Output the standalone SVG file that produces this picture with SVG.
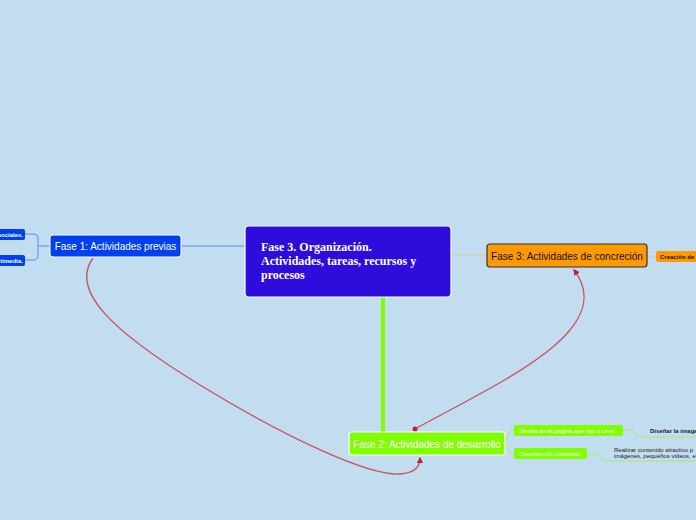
<svg xmlns="http://www.w3.org/2000/svg" width="696" height="520" viewBox="0 0 696 520">
<defs>
<style>
.sans{font-family:"Liberation Sans","DejaVu Sans",sans-serif}
.small{font-size:6px;font-weight:bold}
.red{fill:none;stroke:#c9505e;stroke-width:1.3}
</style>
<marker id="arr" viewBox="0 0 10 10" refX="8" refY="5" markerWidth="5" markerHeight="5" orient="auto-start-reverse">
<path d="M0 0 L10 5 L0 10 z" fill="#c21f36"/>
</marker>
</defs>
<rect width="696" height="520" fill="#c2ddef"/>
<g id="connectors">
<path d="M181 246 H245" stroke="#5b8ef0" stroke-width="1" fill="none"/>
<path d="M25 234 H34 Q38 234 38 238 V254 Q38 260 34 260 H25 M38 246 H50" stroke="#5b8ef0" stroke-width="1" fill="none"/>
<path d="M451 255 H487 M647 256 H656" stroke="#e0c8a0" stroke-width="1" fill="none"/>
<path d="M383 297 V432" stroke="#80ff00" stroke-width="4" fill="none"/>
<path d="M505 443 Q509 430 514 430 M505 443 Q509 454 514 454" stroke="#a8e878" stroke-width="1" fill="none"/>
<path d="M623 430 H630 Q634 430 636 434 Q638 437 642 437 H696" stroke="#a8e878" stroke-width="1" fill="none"/>
<path d="M587 454 H596 Q600 454 601 458 Q602 461 606 461 H696" stroke="#a8e878" stroke-width="1" fill="none"/>
<path class="red" d="M93 258 C70 290 110 330 200 385 C290 440 370 476 400 474 C416 473 420 466 420 458" marker-end="url(#arr)"/>
<path class="red" d="M415 429 C500 382 620 330 574 270" marker-end="url(#arr)"/>
<circle cx="415" cy="429" r="2.5" fill="#c21f36"/>
</g>
<g id="central">
<rect x="245" y="226" width="206" height="71" rx="4" fill="#2e0ddc" stroke="#ffffff" stroke-width="1.2"/>
<text font-family="Liberation Serif,serif" font-weight="bold" font-size="12" fill="#ffffff">
<tspan x="261" y="251">Fase 3. Organización.</tspan>
<tspan x="261" y="265">Actividades, tareas, recursos y</tspan>
<tspan x="261" y="279">procesos</tspan>
</text>
</g>
<g id="fase1">
<rect x="50" y="235" width="131" height="22" rx="3" fill="#0040f0" stroke="#ffffff" stroke-width="1"/>
<text class="sans" x="115.5" y="250" font-size="10" fill="#ffffff" text-anchor="middle">Fase 1: Actividades previas</text>
</g>
<g id="fase1-a">
<rect x="-5" y="229" width="30" height="11" rx="2" fill="#0040f0"/>
<text class="sans small" x="23" y="236.5" fill="#ffffff" text-anchor="end" font-weight="normal">sociales.</text>
</g>
<g id="fase1-b">
<rect x="-5" y="255" width="30" height="11" rx="2" fill="#0040f0"/>
<text class="sans small" x="23" y="262.5" fill="#ffffff" text-anchor="end" font-weight="normal">timedia.</text>
</g>
<g id="fase3">
<rect x="487" y="244" width="160" height="23" rx="3" fill="#ff9900" stroke="#333333" stroke-width="1.2"/>
<text class="sans" x="567" y="259.5" font-size="10" fill="#111111" text-anchor="middle">Fase 3: Actividades de concreción</text>
</g>
<g id="fase3-a">
<rect x="656" y="251" width="50" height="11" rx="2" fill="#ff9900"/>
<text class="sans small" x="660" y="258.5" fill="#111111">Creación de</text>
</g>
<g id="fase2">
<rect x="349" y="432" width="156" height="23" rx="3" fill="#80ff00" stroke="#ffffff" stroke-width="1.2"/>
<text class="sans" x="427" y="447.5" font-size="10" fill="#ffffff" text-anchor="middle">Fase 2: Actividades de desarrollo</text>
</g>
<g id="fase2-a">
<rect x="514" y="425" width="109" height="11" rx="2" fill="#80ff00"/>
<text class="sans" x="519" y="432.5" font-size="6" fill="#ffffff">Diseño de la página que voy a crear.</text>
</g>
<g id="fase2-b">
<rect x="514" y="448" width="73" height="11" rx="2" fill="#80ff00"/>
<text class="sans" x="519" y="455.5" font-size="6" fill="#ffffff">Creación del contenido.</text>
</g>
<g id="fase2-a-1">
<text class="sans small" x="650" y="433" fill="#222222" font-weight="normal">Diseñar la imagen</text>
</g>
<g id="fase2-b-1">
<text class="sans" font-size="6" fill="#222222">
<tspan x="614" y="452">Realizar contenido atractivo p</tspan>
<tspan x="614" y="458">imágenes, pequeños vídeos, e</tspan>
</text>
</g>
</svg>
